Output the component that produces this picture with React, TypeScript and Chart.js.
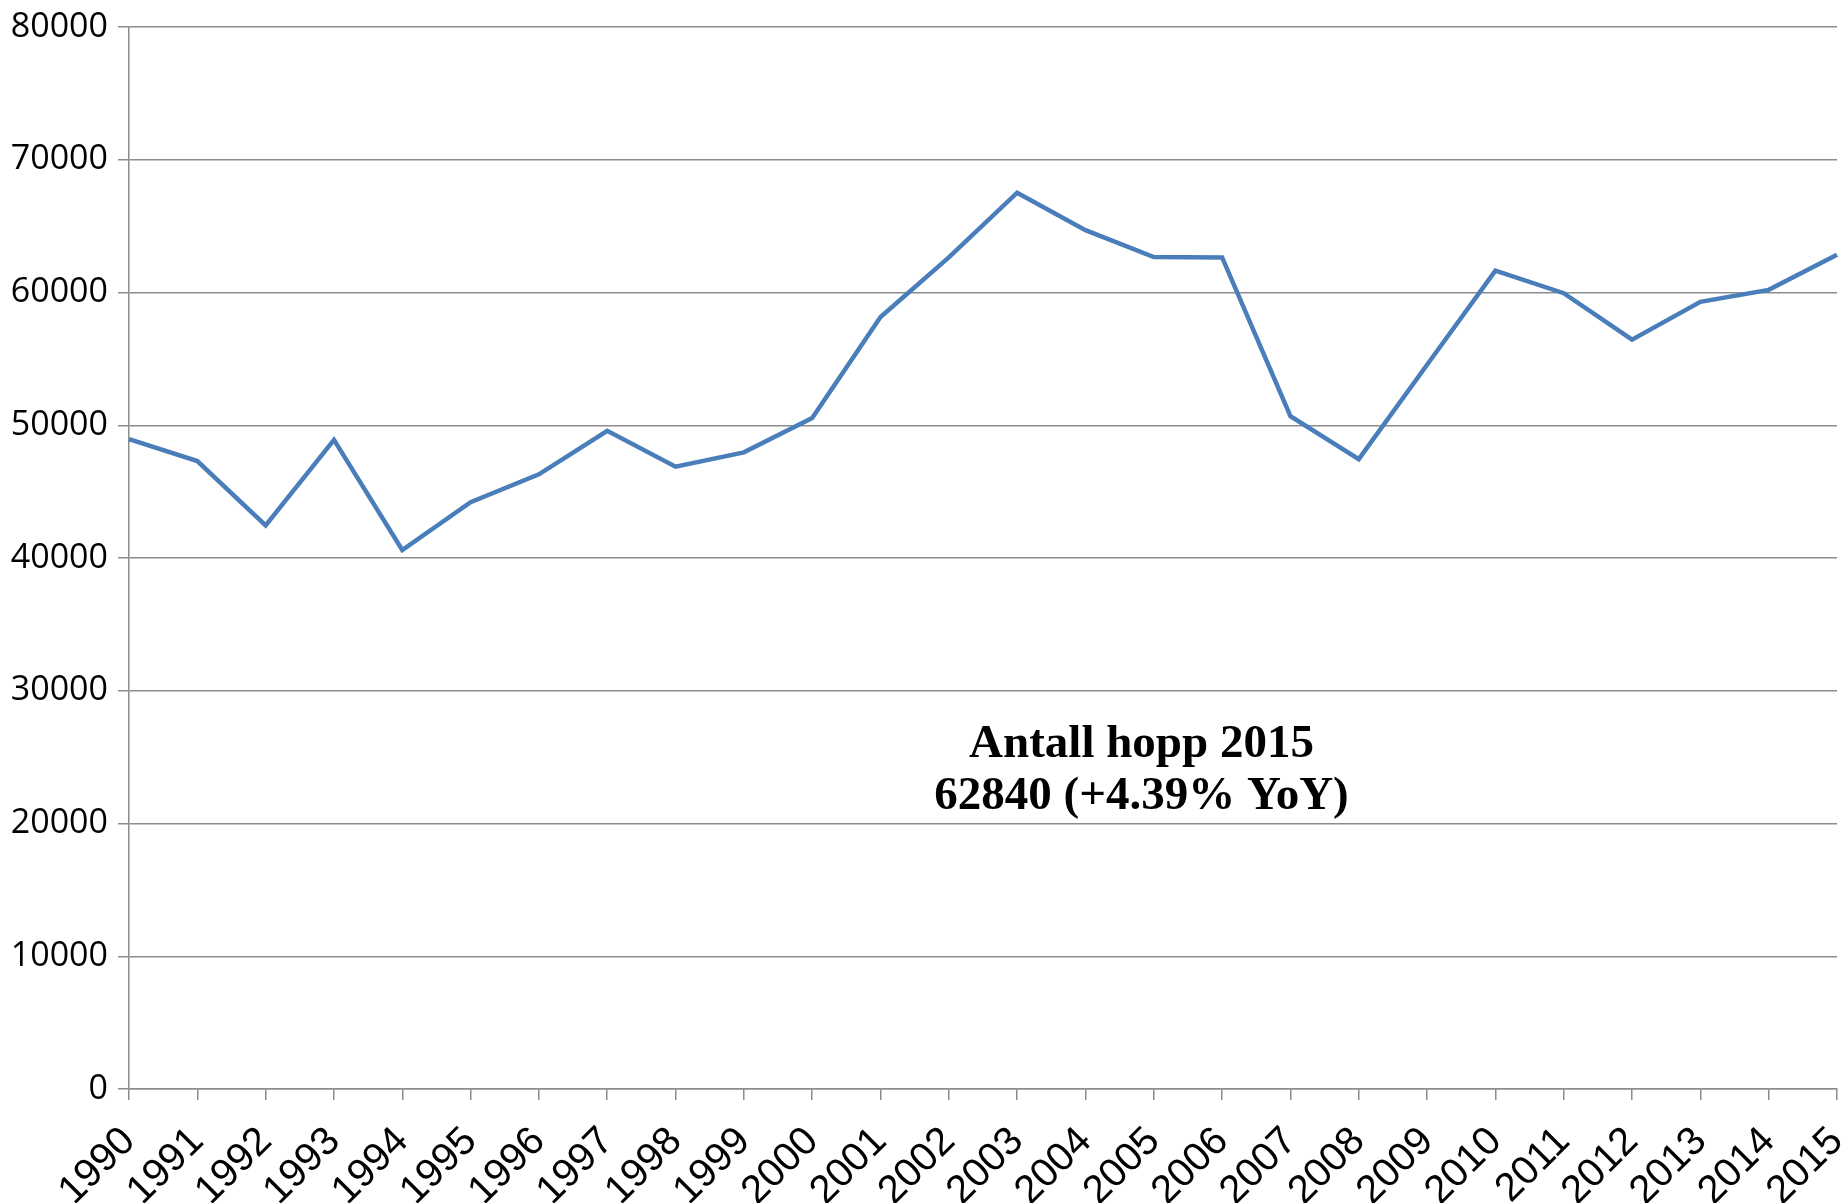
import React, { useEffect, useRef } from "react";
import { Chart, registerables } from "chart.js";

Chart.register(...registerables);

const years: string[] = [
  "1990", "1991", "1992", "1993", "1994", "1995", "1996", "1997", "1998", "1999",
  "2000", "2001", "2002", "2003", "2004", "2005", "2006", "2007", "2008", "2009",
  "2010", "2011", "2012", "2013", "2014", "2015",
];

const jumps: number[] = [
  48950, 47300, 42450, 48900, 40600, 44200, 46300, 49580, 46880, 47960,
  50550, 58150, 62650, 67520, 64700, 62670, 62640, 50680, 47450, 54560,
  61650, 59950, 56450, 59300, 60200, 62840,
];

const yTicks: number[] = [0, 10000, 20000, 30000, 40000, 50000, 60000, 70000, 80000];

const annotationLines: string[] = ["Antall hopp 2015", "62840 (+4.39% YoY)"];

const GRID = "#8c8c8c";

const annotationPlugin = {
  id: "annotationText",
  afterDraw(chart: any) {
    const { ctx, scales } = chart;
    const x = scales.x.getPixelForValue(14.82);
    const y1 = scales.y.getPixelForValue(25000);
    ctx.save();
    ctx.fillStyle = "#000";
    ctx.font = 'bold 47px "Liberation Serif", "Times New Roman", serif';
    ctx.textAlign = "center";
    ctx.textBaseline = "alphabetic";
    annotationLines.forEach((line, i) => {
      ctx.fillText(line, x, y1 + i * 52);
    });
    ctx.restore();
  },
};

export default function App() {
  const ref = useRef<HTMLCanvasElement | null>(null);

  useEffect(() => {
    if (!ref.current) return;
    const chart = new Chart(ref.current, {
      type: "line",
      data: {
        labels: years,
        datasets: [
          {
            data: jumps,
            borderColor: "#4a7ebb",
            borderWidth: 4.5,
            pointRadius: 0,
            tension: 0,
            fill: false,
          },
        ],
      },
      options: {
        animation: false,
        responsive: false,
        maintainAspectRatio: false,
        layout: { padding: { top: 27, right: 4, left: 0, bottom: 0 } },
        plugins: {
          legend: { display: false },
          tooltip: { enabled: false },
          title: { display: false },
        },
        scales: {
          x: {
            offset: false,
            grid: {
              drawOnChartArea: false,
              drawTicks: true,
              tickLength: 11,
              color: GRID,
              lineWidth: 1.5,
            },
            border: { display: true, color: GRID, width: 1.5 },
            ticks: {
              autoSkip: false,
              minRotation: 45,
              maxRotation: 45,
              padding: 18,
              color: "#000",
              font: { family: '"Liberation Sans", Arial, sans-serif', size: 40 },
            },
            afterFit(s: any) {
              s.height = 114;
              s.paddingLeft = 0;
              s.paddingRight = 0;
            },
          },
          y: {
            min: 0,
            max: 80000,
            afterBuildTicks(s: any) {
              s.ticks = yTicks.map((v) => ({ value: v }));
            },
            grid: {
              drawOnChartArea: true,
              drawTicks: true,
              tickLength: 11,
              color: GRID,
              lineWidth: 1.5,
            },
            border: { display: true, color: GRID, width: 1.5 },
            ticks: {
              padding: 10,
              color: "#000",
              font: { family: '"Open Sans", sans-serif', size: 34 },
              callback: (v: any) => String(v),
            },
            afterFit(s: any) {
              s.width = 129;
              s.paddingTop = 0;
              s.paddingBottom = 0;
            },
          },
        },
      },
      plugins: [annotationPlugin],
    });
    return () => chart.destroy();
  }, []);

  return (
    <div style={{ position: "absolute", left: 0, top: 0, width: 1841, height: 1203, background: "#fff" }}>
      <canvas ref={ref} width={1841} height={1203} style={{ display: "block" }} />
    </div>
  );
}
